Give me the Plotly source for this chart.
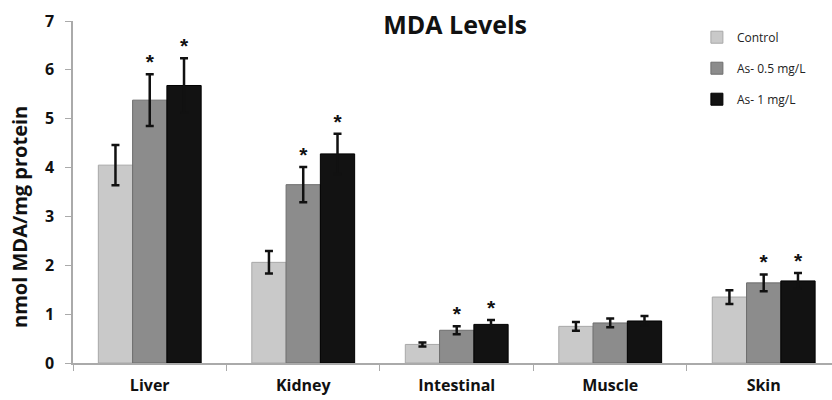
import plotly.graph_objects as go

categories = ["Liver", "Kidney", "Intestinal", "Muscle", "Skin"]
series_names = ["Control", "As- 0.5 mg/L", "As- 1 mg/L"]
control = [4.05, 2.06, 0.38, 0.75, 1.35]
control_err = [0.41, 0.23, 0.04, 0.09, 0.14]
as05 = [5.38, 3.65, 0.67, 0.82, 1.64]
as05_err = [0.53, 0.36, 0.08, 0.09, 0.17]
as1 = [5.68, 4.28, 0.79, 0.86, 1.68]
as1_err = [0.56, 0.41, 0.09, 0.10, 0.16]
sig_as05 = [True, True, True, False, True]
sig_as1 = [True, True, True, False, True]
sig_control = [False] * 5

values = [control, as05, as1]
errors = [control_err, as05_err, as1_err]
sigs = [sig_control, sig_as05, sig_as1]
colors = ["#c9c9c9", "#8c8c8c", "#121212"]
line_colors = ["#a8a8a8", "#6e6e6e", "#000000"]

font = "Open Sans"
fig = go.Figure()
for i in range(3):
    fig.add_trace(go.Bar(
        x=categories, y=values[i], name=series_names[i],
        offsetgroup=str(i), legendgroup=str(i),
        marker=dict(color=colors[i], line=dict(color=line_colors[i], width=1)),
        error_y=dict(type="data", array=errors[i], visible=True,
                     color="#111111", thickness=2.5, width=4),
    ))
for i in range(3):
    xs = [c for c, s in zip(categories, sigs[i]) if s]
    ys = [v + e for v, e, s in zip(values[i], errors[i], sigs[i]) if s]
    fig.add_trace(go.Scatter(
        x=xs, y=ys, mode="text", text=["<b>*</b>"] * len(xs),
        textposition="top center", offsetgroup=str(i),
        textfont=dict(family="Liberation Sans", size=21, color="#111111"),
        showlegend=False, hoverinfo="skip", cliponaxis=False,
    ))

fig.update_layout(
    width=832, height=400,
    margin=dict(l=73, r=0, t=21, b=37),
    paper_bgcolor="white", plot_bgcolor="white",
    barmode="group", bargap=0.33, bargroupgap=0,
    scattermode="group", scattergap=0.33,
    title=dict(text="<b>MDA Levels</b>", x=0.547, xanchor="center",
               y=0.937, yanchor="middle",
               font=dict(family=font, size=25, color="#111111")),
    legend=dict(x=0.822, y=0.995, xanchor="left", yanchor="top",
                font=dict(family=font, size=12, color="#222222"),
                tracegroupgap=12, bgcolor="rgba(0,0,0,0)"),
    font=dict(family=font),
    annotations=[dict(
        text="<b>nmol MDA/mg protein</b>", textangle=-90,
        xref="paper", yref="paper", x=-0.0698, y=0.427,
        xanchor="center", yanchor="middle", showarrow=False,
        font=dict(family=font, size=20, color="#111111"),
    )],
)
fig.update_xaxes(
    range=[-0.5, 4.445], showline=True, linecolor="#aaaaaa", linewidth=1.5,
    ticks="outside", tickson="boundaries", ticklen=6, tickcolor="#aaaaaa",
    tickfont=dict(family=font, size=16, color="#111111"),
    tickprefix="<b>", ticksuffix="</b>", showgrid=False, ticklabelstandoff=7,
)
fig.update_yaxes(
    range=[0, 7], dtick=1, showline=True, linecolor="#aaaaaa", linewidth=1.5,
    ticks="outside", ticklen=6, tickcolor="#aaaaaa", showgrid=False,
    zeroline=False, ticklabelstandoff=8,
    tickfont=dict(family=font, size=16, color="#111111"),
    tickprefix="<b>", ticksuffix="</b>",
)
fig.write_html("out.html", config={"displayModeBar": False},
               post_script="document.body.style.margin='0';document.body.style.padding='0';")
